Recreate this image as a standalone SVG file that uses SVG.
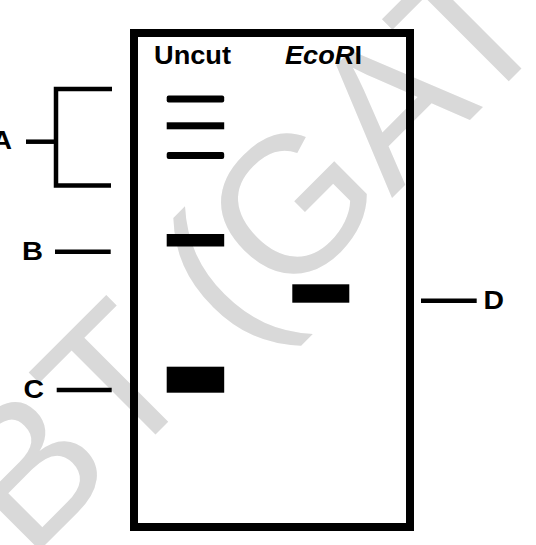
<svg xmlns="http://www.w3.org/2000/svg" width="536" height="545" viewBox="0 0 536 545">
<style>
.lbl{font-family:"Liberation Sans",Arial,sans-serif;font-weight:bold;font-size:25px;fill:#000}
.wm{font-family:"Liberation Sans",Arial,sans-serif;font-size:194px;fill:#d9d9d9}
.ln{stroke:#000;stroke-width:4.5;fill:none}
.band{fill:#000}
</style>
<rect width="536" height="545" fill="#fff"/>
<g id="watermark" transform="translate(28.5,561.5) rotate(-45)">
<text class="wm" x="0" y="0">BT (GAT</text>
</g>
<g id="gel">
<rect x="134" y="33" width="276" height="494" fill="none" stroke="#000" stroke-width="8"/>
</g>
<g id="lane-headers">
<text class="lbl" x="154" y="63.5" textLength="77" lengthAdjust="spacingAndGlyphs">Uncut</text>
<text class="lbl" x="285" y="63.5" textLength="77" lengthAdjust="spacingAndGlyphs"><tspan font-style="italic">EcoR</tspan>I</text>
</g>
<g id="uncut-bands">
<rect class="band" x="166.7" y="95.5" width="57.5" height="7" rx="2"/>
<rect class="band" x="166.7" y="122.3" width="57.5" height="7"/>
<rect class="band" x="166.7" y="152" width="57.5" height="7" rx="2"/>
<rect class="band" x="166.7" y="234" width="57.5" height="12.5"/>
<rect class="band" x="166.7" y="366.7" width="57.5" height="26"/>
</g>
<g id="ecori-bands">
<rect class="band" x="292.3" y="284.3" width="57" height="18.4"/>
</g>
<g id="label-A">
<text class="lbl" x="-8" y="148.5" textLength="20" lengthAdjust="spacingAndGlyphs">A</text>
</g>
<g id="label-B">
<text class="lbl" x="22" y="260" textLength="21" lengthAdjust="spacingAndGlyphs">B</text>
</g>
<g id="label-C">
<text class="lbl" x="23.5" y="398" textLength="20.5" lengthAdjust="spacingAndGlyphs">C</text>
</g>
<g id="label-D">
<text class="lbl" x="483.5" y="309" textLength="20.5" lengthAdjust="spacingAndGlyphs">D</text>
</g>
<g id="connectors">
<path class="ln" d="M112,89 H56 V185.5 H111"/>
<line class="ln" x1="26" y1="141.7" x2="56" y2="141.7"/>
<line class="ln" x1="55" y1="251.7" x2="110.7" y2="251.7"/>
<line class="ln" x1="56.7" y1="390" x2="111.7" y2="390"/>
<line class="ln" x1="421" y1="300.7" x2="476.7" y2="300.7"/>
</g>
</svg>
